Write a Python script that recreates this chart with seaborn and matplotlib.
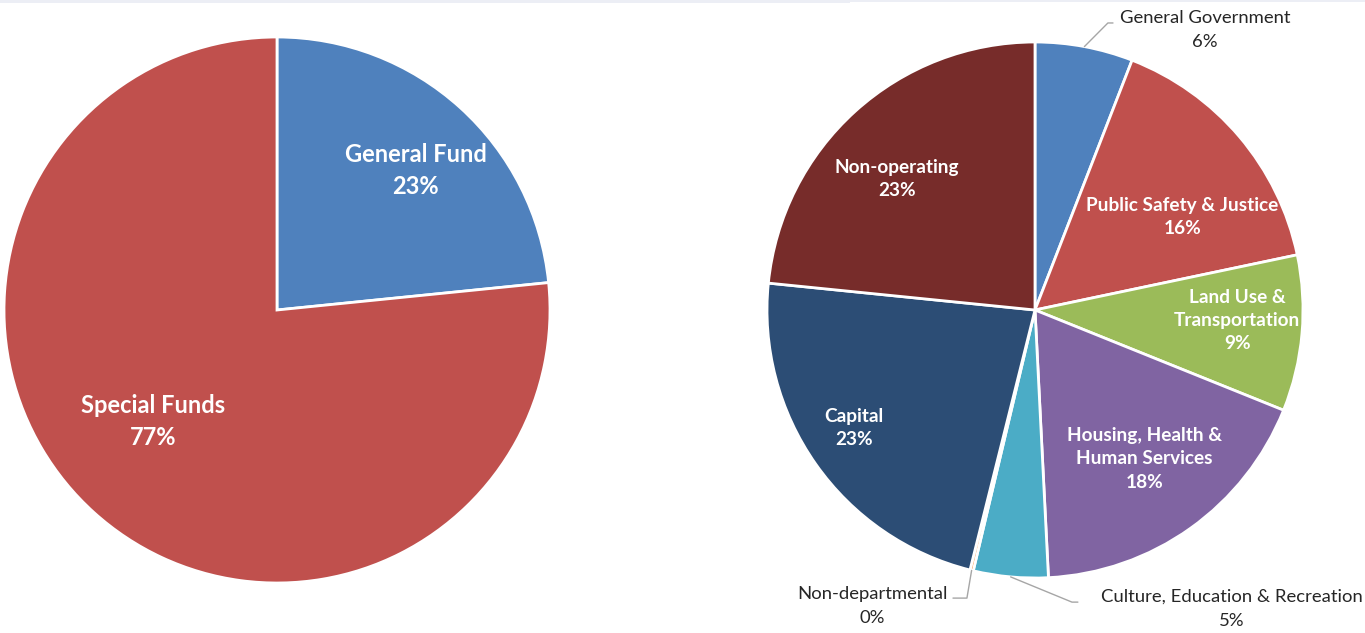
import numpy as np
import matplotlib
matplotlib.use("Agg")
import matplotlib.pyplot as plt
import seaborn as sns
from matplotlib.patches import Rectangle

sns.set_style("white")
plt.rcParams["font.family"] = ["Lato", "DejaVu Sans"]

# Budget by fund type
fund_names = ["General Fund", "Special Funds"]
fund_shares = [23.4, 76.6]
fund_pct_labels = ["23%", "77%"]

# Budget by service area
area_names = [
    "General Government",
    "Public Safety & Justice",
    "Land Use &\nTransportation",
    "Housing, Health &\nHuman Services",
    "Culture, Education & Recreation",
    "Non-departmental",
    "Capital",
    "Non-operating",
]
area_shares = [5.9, 15.8, 9.4, 18.1, 4.5, 0.2, 22.7, 23.4]
area_pct_labels = ["6%", "16%", "9%", "18%", "5%", "0%", "23%", "23%"]

fund_colors = sns.color_palette(["#4F81BD", "#C0504D"])
area_colors = sns.color_palette([
    "#4F81BD", "#C0504D", "#9BBB59", "#8064A2",
    "#4BACC6", "#F79646", "#2C4D75", "#772C2A",
])

W, H = 1365, 633
fig = plt.figure(figsize=(W / 100, H / 100), dpi=100)
fig.patch.set_facecolor("white")

# faint strip along the top edge
fig.add_artist(Rectangle((0, 1 - 3 / H), 850 / W, 3 / H, transform=fig.transFigure,
                         color="#ECEEF5", lw=0))
fig.add_artist(Rectangle((850 / W, 1 - 2 / H), 1 - 850 / W, 2 / H, transform=fig.transFigure,
                         color="#ECEEF5", lw=0))


def pie_axes(cx, cy, r):
    return fig.add_axes([(cx - r) / W, (H - cy - r) / H, 2 * r / W, 2 * r / H])


def finish(ax):
    ax.set_xlim(-1, 1)
    ax.set_ylim(-1, 1)
    ax.set_aspect("equal")
    ax.axis("off")


def mid_angle(w):
    return np.deg2rad((w.theta1 + w.theta2) / 2)


def polar(r, compass_deg):
    a = np.deg2rad(compass_deg)
    return r * np.sin(a), r * np.cos(a)


wedge_props = dict(edgecolor="white", linewidth=2)

# ---- left pie: fund type ----
ax1 = pie_axes(277, 310, 273)
w1, _ = ax1.pie(fund_shares, colors=fund_colors, startangle=90, counterclock=False,
                radius=1, wedgeprops=wedge_props)
finish(ax1)
fund_label_pos = [(0.72, 44.8), (0.61, 228.0)]
for name, pct, (r, deg) in zip(fund_names, fund_pct_labels, fund_label_pos):
    x, y = polar(r, deg)
    ax1.text(x, y, f"{name}\n{pct}", ha="center", va="center", color="white",
             fontsize=17, fontweight="bold", linespacing=1.45)

# ---- right pie: service area ----
ax2 = pie_axes(1035, 310, 268)
w2, _ = ax2.pie(area_shares, colors=area_colors, startangle=90, counterclock=False,
                radius=1, wedgeprops=wedge_props)
finish(ax2)

inside = {1: (0.65, 57.7), 2: (0.755, 93.0), 3: (0.69, 143.6),
          6: (0.806, 236.9), 7: (0.71, 313.5)}
for i, (r, deg) in inside.items():
    x, y = polar(r, deg)
    ax2.text(x, y, f"{area_names[i]}\n{area_pct_labels[i]}", ha="center", va="center",
             color="white", fontsize=13.7, fontweight="bold", linespacing=1.45)

# outside labels with leader lines: (text position, elbow, line end)
outside = {
    0: ((0.634, 1.045), (0.272, 1.071), (0.291, 1.071)),
    4: ((0.735, -1.116), (0.138, -1.090), (0.160, -1.090)),
    5: ((-0.608, -1.104), (-0.254, -1.075), (-0.306, -1.075)),
}
for i, (tpos, elbow, end) in outside.items():
    a = mid_angle(w2[i])
    sx, sy = np.cos(a), np.sin(a)
    ax2.plot([sx, elbow[0], end[0]], [sy, elbow[1], end[1]], color="#A6A6A6",
             lw=1, clip_on=False)
    ax2.text(tpos[0], tpos[1], f"{area_names[i]}\n{area_pct_labels[i]}", ha="center",
             va="center", color="#262626", fontsize=13.3, linespacing=1.65, clip_on=False)

fig.savefig("out.png", dpi=100)
